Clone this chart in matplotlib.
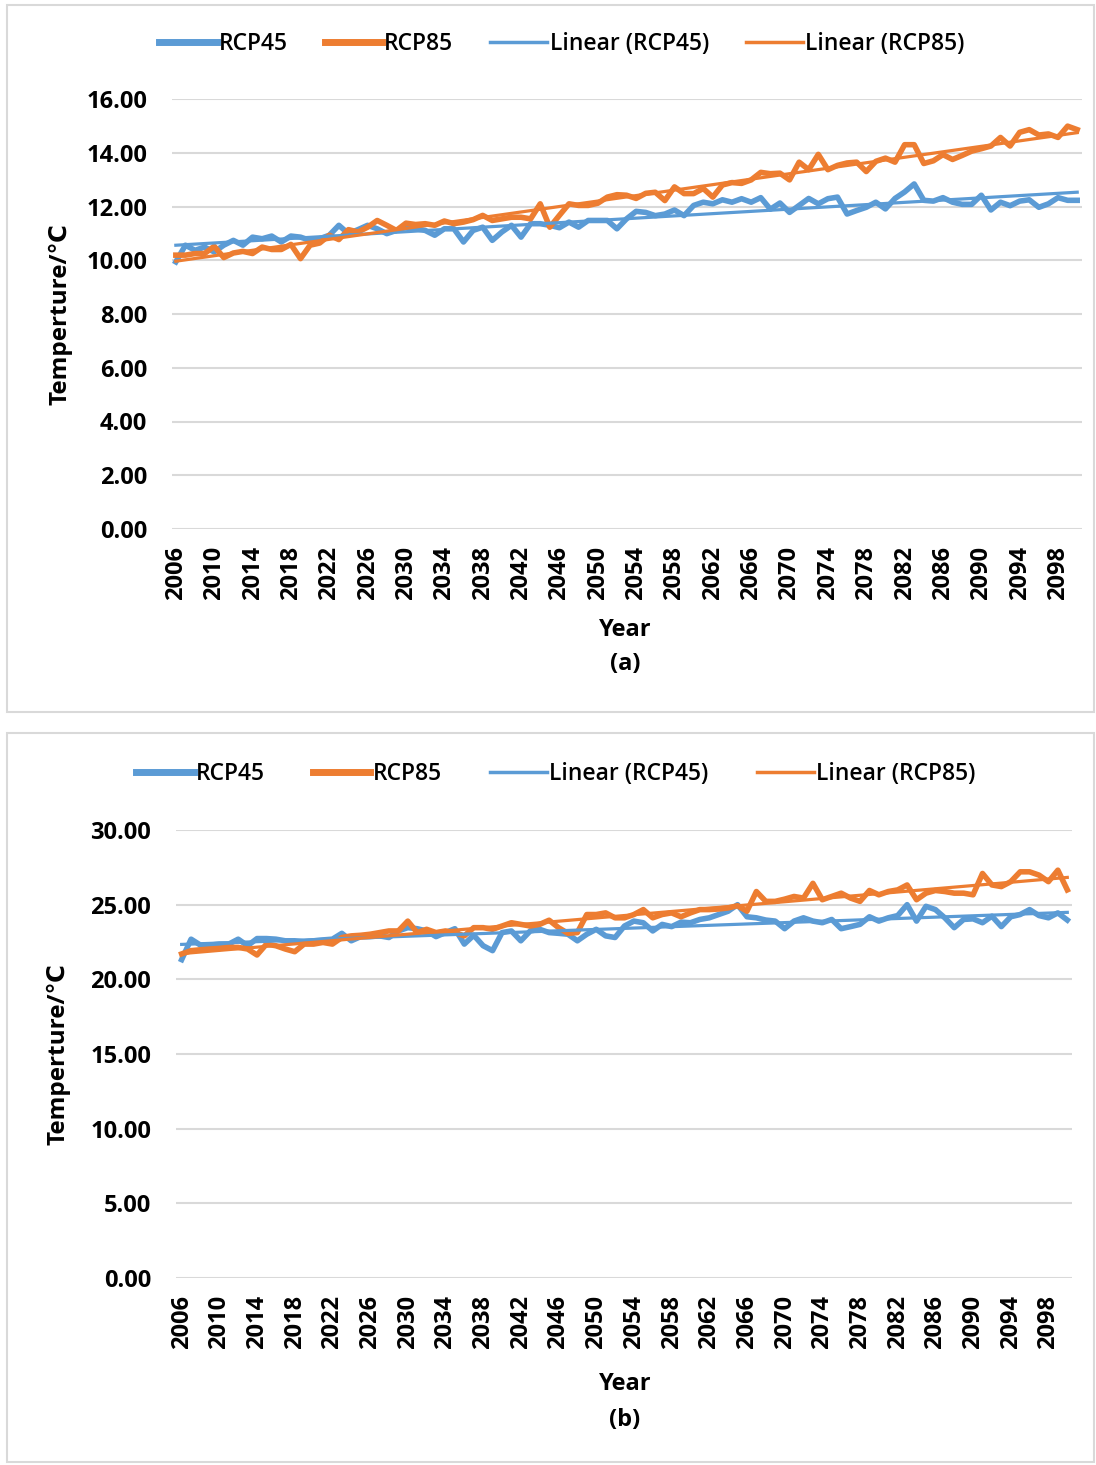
import numpy as np
import matplotlib
matplotlib.use("Agg")
import matplotlib.pyplot as plt
from matplotlib.patches import Rectangle
from matplotlib.lines import Line2D

plt.rcParams['font.family'] = ['Open Sans', 'DejaVu Sans']

years = np.arange(2006, 2101)
BLUE, ORANGE, GRID = "#5B9BD5", "#ED7D31", "#D9D9D9"

# panel (a)
a_rcp45 = [9.94, 10.56, 10.37, 10.49, 10.31, 10.56, 10.74, 10.56, 10.86, 10.80,
           10.90, 10.68, 10.90, 10.86, 10.74, 10.80, 10.93, 11.30, 10.99, 11.14,
           11.30, 11.17, 10.99, 11.11, 11.23, 11.17, 11.11, 10.93, 11.17, 11.17,
           10.68, 11.11, 11.23, 10.74, 11.05, 11.30, 10.86, 11.36, 11.36, 11.30,
           11.21, 11.42, 11.23, 11.48, 11.48, 11.48, 11.17, 11.54, 11.82, 11.78,
           11.66, 11.72, 11.87, 11.66, 12.04, 12.16, 12.10, 12.25, 12.16, 12.29,
           12.16, 12.33, 11.90, 12.13, 11.78, 12.04, 12.30, 12.10, 12.29, 12.35,
           11.72, 11.85, 11.97, 12.16, 11.91, 12.30, 12.54, 12.84, 12.23, 12.20,
           12.33, 12.16, 12.08, 12.08, 12.42, 11.87, 12.16, 12.03, 12.20, 12.25,
           11.97, 12.10, 12.33, 12.23, 12.23]
a_rcp85 = [10.19, 10.19, 10.25, 10.25, 10.52, 10.10, 10.27, 10.33, 10.25, 10.49,
           10.40, 10.40, 10.59, 10.06, 10.56, 10.64, 10.93, 10.77, 11.14, 11.05,
           11.23, 11.48, 11.30, 11.11, 11.38, 11.33, 11.36, 11.30, 11.46, 11.36,
           11.42, 11.51, 11.67, 11.48, 11.54, 11.60, 11.60, 11.54, 12.10, 11.23,
           11.67, 12.10, 12.04, 12.04, 12.12, 12.35, 12.44, 12.42, 12.30, 12.49,
           12.53, 12.22, 12.73, 12.48, 12.48, 12.67, 12.35, 12.80, 12.89, 12.86,
           12.99, 13.27, 13.22, 13.24, 12.99, 13.65, 13.37, 13.94, 13.37, 13.53,
           13.62, 13.65, 13.30, 13.68, 13.80, 13.65, 14.30, 14.30, 13.60, 13.70,
           13.93, 13.75, 13.90, 14.06, 14.15, 14.25, 14.57, 14.25, 14.76, 14.86,
           14.66, 14.70, 14.57, 14.99, 14.86]

# panel (b)
b_rcp45 = [21.32, 22.69, 22.29, 22.29, 22.36, 22.36, 22.69, 22.25, 22.73, 22.73,
           22.69, 22.58, 22.58, 22.51, 22.58, 22.64, 22.69, 23.08, 22.58, 22.86,
           22.86, 22.91, 22.80, 23.24, 23.46, 23.39, 23.24, 22.86, 23.13, 23.39,
           22.36, 22.95, 22.25, 21.92, 23.13, 23.24, 22.58, 23.24, 23.35, 23.13,
           23.08, 23.02, 22.58, 23.02, 23.35, 22.91, 22.80, 23.57, 23.90, 23.79,
           23.24, 23.68, 23.53, 23.83, 23.79, 24.01, 24.12, 24.34, 24.56, 25.00,
           24.19, 24.12, 23.97, 23.90, 23.39, 23.90, 24.12, 23.90, 23.79, 24.01,
           23.39, 23.53, 23.68, 24.19, 23.90, 24.12, 24.27, 25.00, 23.90, 24.89,
           24.67, 24.12, 23.46, 24.01, 24.05, 23.79, 24.23, 23.53, 24.19, 24.34,
           24.67, 24.27, 24.12, 24.45, 23.97]
b_rcp85 = [21.70, 21.92, 21.98, 22.03, 22.07, 22.14, 22.14, 22.03, 21.63, 22.36,
           22.25, 22.03, 21.85, 22.36, 22.36, 22.47, 22.36, 22.80, 22.91, 22.95,
           23.02, 23.13, 23.24, 23.24, 23.90, 23.13, 23.35, 23.13, 23.24, 23.13,
           22.91, 23.46, 23.46, 23.35, 23.57, 23.79, 23.68, 23.57, 23.68, 23.96,
           23.46, 23.08, 23.13, 24.34, 24.34, 24.45, 24.12, 24.12, 24.34, 24.67,
           24.12, 24.34, 24.45, 24.19, 24.45, 24.67, 24.67, 24.71, 24.78, 24.93,
           24.56, 25.88, 25.22, 25.22, 25.37, 25.55, 25.44, 26.43, 25.33, 25.55,
           25.77, 25.44, 25.22, 25.95, 25.66, 25.88, 25.99, 26.32, 25.33, 25.77,
           25.95, 25.88, 25.77, 25.77, 25.66, 27.09, 26.32, 26.21, 26.54, 27.20,
           27.20, 26.98, 26.54, 27.31, 25.99]

fig = plt.figure(figsize=(10.96, 14.65), dpi=100)

# panel frames
for (x0, y0, x1, y1) in [(7, 5, 1094, 712), (7, 733, 1094, 1462)]:
    fig.patches.append(Rectangle((x0 / 1096, 1 - y1 / 1465), (x1 - x0) / 1096, (y1 - y0) / 1465,
                                 transform=fig.transFigure, fill=False, ec=GRID, lw=1.5))

def panel(rect, s45, s85, ymax, ystep, xlim, leg_y, leg_x, colsp, ylab_x, year_y, tag_y, tag):
    ax = fig.add_axes(rect)
    ax.plot(years, s45, color=BLUE, lw=4.0, solid_joinstyle="round", zorder=3)
    ax.plot(years, s85, color=ORANGE, lw=4.0, solid_joinstyle="round", zorder=3)
    for s, c in [(s45, BLUE), (s85, ORANGE)]:
        k, b = np.polyfit(years, s, 1)
        ax.plot(years, k * years + b, color=c, lw=2.3, zorder=4)
    ax.set_xlim(*xlim); ax.set_ylim(0, ymax)
    ax.set_yticks(np.arange(0, ymax + 0.01, ystep))
    ax.set_yticklabels([f"{v:.2f}" for v in np.arange(0, ymax + 0.01, ystep)])
    ax.set_xticks(years[::4])
    ax.set_xticklabels([str(y) for y in years[::4]], rotation=90)
    ax.grid(axis="y", color=GRID, lw=1.5); ax.set_axisbelow(True)
    for sp in ax.spines.values(): sp.set_visible(False)
    ax.tick_params(length=0, labelsize=17)
    ax.tick_params(axis="y", pad=18); ax.tick_params(axis="x", pad=12)
    for t in ax.get_xticklabels() + ax.get_yticklabels(): t.set_fontweight("bold")
    handles = [Line2D([], [], color=BLUE, lw=5), Line2D([], [], color=ORANGE, lw=5),
               Line2D([], [], color=BLUE, lw=2.5), Line2D([], [], color=ORANGE, lw=2.5)]
    fig.legend(handles, ["RCP45", "RCP85", "Linear (RCP45)", "Linear (RCP85)"],
               loc="center", bbox_to_anchor=(leg_x, leg_y), ncol=4, frameon=False,
               prop=dict(size=16.5, weight="semibold"), handlelength=2.5, handletextpad=0.1,
               columnspacing=colsp)
    fig.text(ylab_x, rect[1] + rect[3] / 2, "Temperture/℃", rotation=90, ha="center",
             va="center", fontsize=17.5, fontweight="bold")
    fig.text(625 / 1096, year_y, "Year", ha="center", va="center", fontsize=17, fontweight="bold")
    fig.text(625 / 1096, tag_y, tag, ha="center", va="center", fontsize=17, fontweight="bold")
    return ax

panel([172 / 1096, 1 - 529 / 1465, 910 / 1096, 430 / 1465], a_rcp45, a_rcp85, 16, 2,
      (2005.6, 2100.5), 1 - 44 / 1465, 562 / 1096, 1.6,
      60 / 1096, 1 - 630 / 1465, 1 - 664 / 1465, "(a)")
panel([176 / 1096, 1 - 1278 / 1465, 896 / 1096, 448 / 1465], b_rcp45, b_rcp85, 30, 5,
      (2005.4, 2100.5), 1 - 774 / 1465, 556 / 1096, 2.1,
      58 / 1096, 1 - 1384 / 1465, 1 - 1420 / 1465, "(b)")

fig.savefig("out.png", dpi=100)
